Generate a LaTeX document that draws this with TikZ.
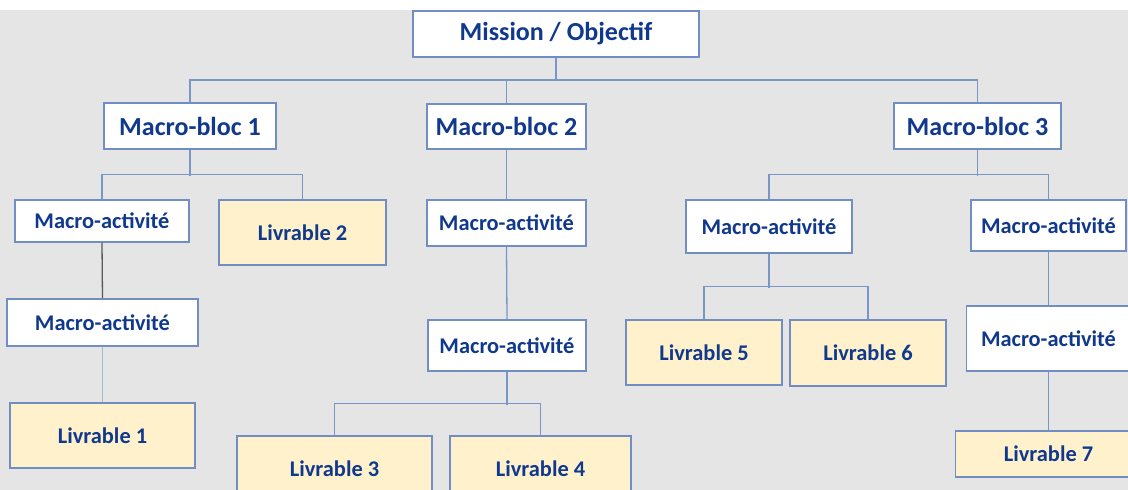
\documentclass[tikz,border=0pt]{standalone}
\usepackage{fontspec}
\setmainfont{Carlito}
\definecolor{ink}{RGB}{16,56,140}
\definecolor{frame}{RGB}{112,142,196}
\definecolor{pale}{RGB}{255,241,204}
\definecolor{back}{RGB}{229,229,229}
\definecolor{wire}{RGB}{120,150,200}
\begin{document}
\begin{tikzpicture}[
        x = 1pt, y = -1pt,
        box/.style = {draw = frame, fill = white, line width = 1.2pt, inner sep = 0pt,
            text = ink, font = \bfseries\fontsize{22.4}{26}\selectfont},
        big/.style = {box, font = \bfseries\fontsize{26}{30}\selectfont},
        deliv/.style = {box, fill = pale},
        link/.style = {draw = wire, line width = 1.3pt}
    ]
    \useasboundingbox (0, 0) rectangle (1128, 490);
    \clip (0, 0) rectangle (1128, 490);
    \fill [white] (0, 0) rectangle (1128, 10);
    \fill [back] (0, 10) rectangle (1128, 490);

    % mission and blocs
    \node [big, minimum width = 286, minimum height = 46] (m) at (556, 34) {Mission / Objectif};
    \node [big, minimum width = 172, minimum height = 46] (b1) at (190, 126) {Macro-bloc 1};
    \node [big, minimum width = 159, minimum height = 45] (b2) at (506.5, 126.5) {Macro-bloc 2};
    \node [big, minimum width = 167, minimum height = 46] (b3) at (977.5, 126) {Macro-bloc 3};

    % bloc 1
    \node [box, minimum width = 174, minimum height = 42] (a1) at (102, 221) {Macro-activité};
    \node [deliv, minimum width = 167, minimum height = 65] (l2) at (302.5, 232.5) {Livrable 2};
    \node [box, minimum width = 191, minimum height = 47] (a2) at (102.5, 322.5) {Macro-activité};
    \node [deliv, minimum width = 185, minimum height = 65] (l1) at (102.5, 435.5) {Livrable 1};

    % bloc 2
    \node [box, minimum width = 159, minimum height = 46] (p1) at (506.5, 223) {Macro-activité};
    \node [box, minimum width = 158, minimum height = 51] (p2) at (507, 345.5) {Macro-activité};
    \node [deliv, minimum width = 195, minimum height = 65] (l3) at (334.5, 468.5) {Livrable 3};
    \node [deliv, minimum width = 181, minimum height = 65] (l4) at (540.5, 468.5) {Livrable 4};

    % bloc 3
    \node [box, minimum width = 166, minimum height = 53] (c1) at (769, 226.5) {Macro-activité};
    \node [box, minimum width = 155, minimum height = 51] (c2) at (1048.5, 225.5) {Macro-activité};
    \node [deliv, minimum width = 156, minimum height = 65] (l5) at (704, 352.5) {Livrable 5};
    \node [deliv, minimum width = 156, minimum height = 66] (l6) at (868, 353) {Livrable 6};
    \node [box, minimum width = 164, minimum height = 65] (c3) at (1048.5, 338.5) {Macro-activité};
    \node [deliv, minimum width = 186, minimum height = 46] (l7) at (1048.5, 454) {Livrable 7};

    \coordinate (top) at (556, 80);
    \path [link]
        (m.south) edge (top)
        (b1.north) |- (top) -| (b3.north)
        (b2.north) edge (b2.north |- top)
        (b1.south) edge +(0, 26)
        (a1.north) |- +(0, -25) -| (l2.north)
        (b2.south) edge (p1.north)
        (p1.south) edge (p2.north)
        (p2.south) edge +(0, 33)
        (l3.north) |- +(0, -32) -| (l4.north)
        (b3.south) edge +(0, 26)
        (c1.north) |- +(0, -25) -| (c2.north)
        (c1.south) edge +(0, 34)
        (l5.north) |- +(0, -33) -| (l6.north)
        (c2.south) edge (c3.north)
        (c3.south) edge (l7.north)
    ;
    \draw [line width = 1.3pt, black!65] (a1.south) -- (a2.north);
    \draw [line width = 1.3pt, blue!30!cyan!25!white!80!black] (a2.south) -- (l1.north);
\end{tikzpicture}
\end{document}
